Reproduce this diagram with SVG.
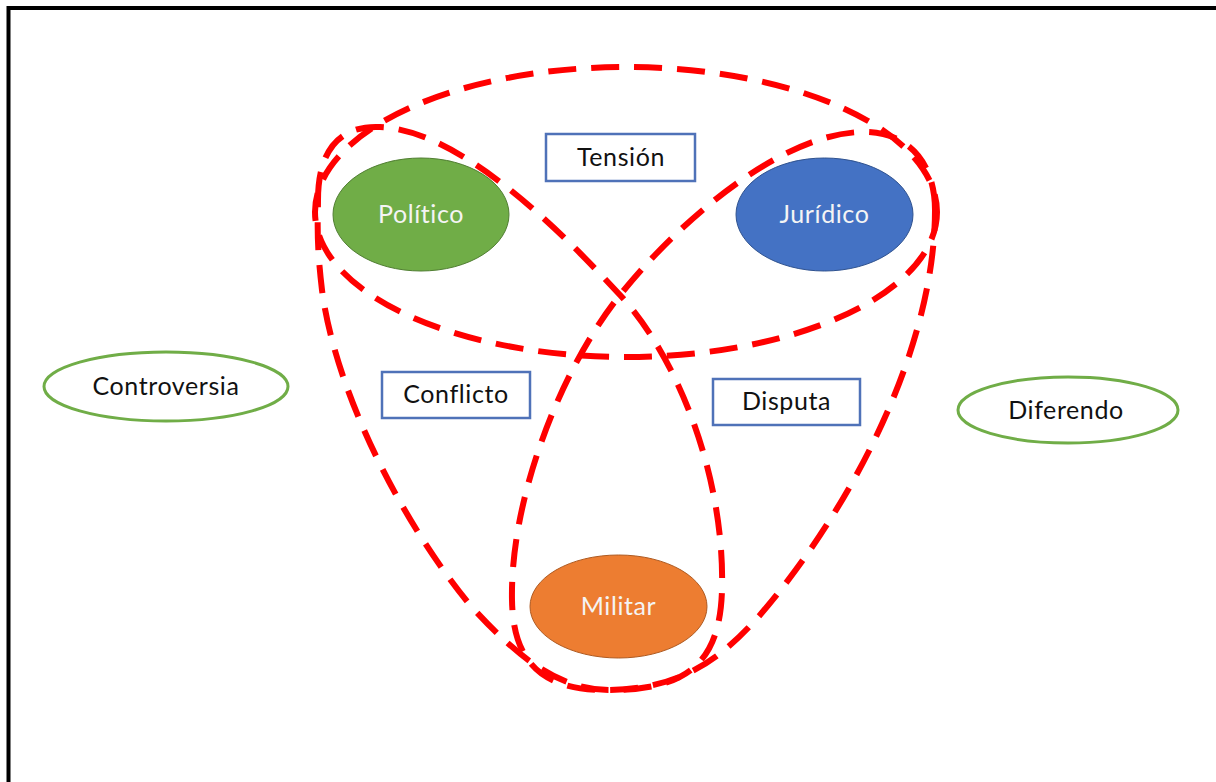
<svg xmlns="http://www.w3.org/2000/svg" width="1216" height="782" viewBox="0 0 1216 782">
<style>
.loop{fill:none;stroke:#FF0000;stroke-width:6;stroke-dasharray:28 15;}
.box{fill:#FFFFFF;stroke:#4F72B8;stroke-width:2.5;}
.oval{fill:#FFFFFF;stroke:#70AD47;stroke-width:3;}
.t{font-family:Lato,"Liberation Sans",sans-serif;font-size:25px;letter-spacing:0.6px;text-anchor:middle;fill:#111111;}
.tw{font-family:Lato,"Liberation Sans",sans-serif;font-size:25px;letter-spacing:0.6px;text-anchor:middle;fill:#F4F4F4;}
</style>
<rect x="0" y="0" width="1216" height="782" fill="#FFFFFF"/>
<rect x="8.5" y="8" width="1220" height="800" fill="none" stroke="#000000" stroke-width="4"/>
<g id="connectors">
  <ellipse class="loop" cx="626" cy="212" rx="311" ry="145"/>
  <path class="loop" d="M318,200 C318,150 340,125 380,127 C460,130 560,230 620,295 C680,360 725,480 722,590 C720,660 690,690 610,690 C560,690 520,660 470,605 C400,520 335,390 322,290 C316,240 318,220 318,200 Z"/>
  <path class="loop" d="M935,210 C935,160 905,130 860,132 C780,135 680,220 620,295 C560,370 510,500 512,600 C513,660 540,690 605,690 C680,690 720,660 760,615 C850,510 935,350 935,210 Z"/>
</g>
<g id="politico">
  <ellipse cx="421" cy="214.5" rx="88" ry="56.5" fill="#70AD47" stroke="#507E32" stroke-width="1"/>
  <text class="tw" x="421" y="223">Político</text>
</g>
<g id="juridico">
  <ellipse cx="824.5" cy="214.5" rx="88.5" ry="56.5" fill="#4472C4" stroke="#2F528F" stroke-width="1"/>
  <text class="tw" x="824.5" y="223">Jurídico</text>
</g>
<g id="militar">
  <ellipse cx="618.5" cy="606.5" rx="88.5" ry="51.5" fill="#ED7D31" stroke="#AE5A21" stroke-width="1"/>
  <text class="tw" x="618.5" y="615">Militar</text>
</g>
<g id="tension">
  <rect class="box" x="546" y="134" width="149" height="47"/>
  <text class="t" x="621" y="166">Tensión</text>
</g>
<g id="conflicto">
  <rect class="box" x="382" y="372" width="148" height="46"/>
  <text class="t" x="456" y="403">Conflicto</text>
</g>
<g id="disputa">
  <rect class="box" x="713" y="379" width="147" height="46"/>
  <text class="t" x="786.5" y="410">Disputa</text>
</g>
<g id="controversia">
  <ellipse class="oval" cx="166" cy="386.5" rx="122" ry="34.5"/>
  <text class="t" x="166" y="395">Controversia</text>
</g>
<g id="diferendo">
  <ellipse class="oval" cx="1068" cy="410" rx="110" ry="33"/>
  <text class="t" x="1066" y="419">Diferendo</text>
</g>
</svg>
